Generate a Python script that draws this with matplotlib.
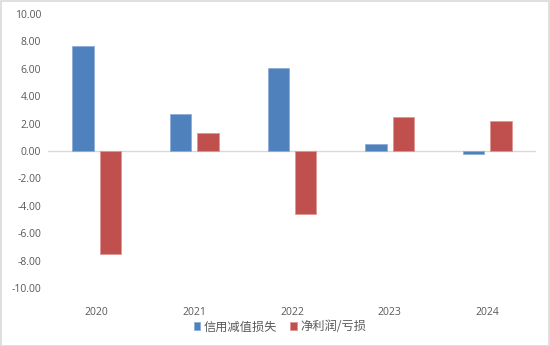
import numpy as np
import matplotlib
matplotlib.use("Agg")
import matplotlib.pyplot as plt
from matplotlib.patches import Rectangle

plt.rcParams['font.family'] = ['Open Sans', 'Noto Sans CJK SC', 'DejaVu Sans']

years = ['2020', '2021', '2022', '2023', '2024']
credit_loss = [7.65, 2.72, 6.08, 0.51, -0.20]
net_profit = [-7.52, 1.34, -4.62, 2.50, 2.21]
yticks = np.arange(-10, 10.01, 2)

blue = '#4F81BD'
red = '#C0504D'
grey = '#595959'

fig = plt.figure(figsize=(5.5, 3.46), dpi=100)
ax = fig.add_axes([48 / 550, 1 - 288 / 346, 488 / 550, 274 / 346])

x = np.arange(len(years))
w = 0.22
ax.bar(x - 0.14, credit_loss, w, color=blue, edgecolor='#8EADD6', linewidth=0.6,
       label='信用减值损失')
ax.bar(x + 0.14, net_profit, w, color=red, edgecolor='#DE9694', linewidth=0.6,
       label='净利润/亏损')

ax.set_xlim(-0.5, len(years) - 0.5)
ax.set_ylim(-10, 10)
ax.set_yticks(yticks)
ax.set_yticklabels([f'{v:.2f}' for v in yticks], fontsize=7.5, color=grey)
ax.set_xticks(x)
ax.set_xticklabels(years, fontsize=7.5, color=grey)
ax.tick_params(length=0, pad=14, axis='x')
ax.tick_params(length=0, pad=5, axis='y')
for s in ax.spines.values():
    s.set_visible(False)
ax.axhline(0, color='#D9D9D9', linewidth=1, zorder=0)

leg = fig.legend(loc='center', bbox_to_anchor=(280 / 550, 1 - 327 / 346), ncol=2,
                 frameon=False, handlelength=0.55, handleheight=0.55,
                 handletextpad=0.3, columnspacing=1.0,
                 prop={'family': ['Noto Sans CJK SC', 'DejaVu Sans'], 'size': 8.8})
for t in leg.get_texts():
    t.set_color(grey)

fig.patches.append(Rectangle((0.5 / 550, 0.5 / 346), 548.5 / 550, 344.5 / 346,
                             transform=fig.transFigure, fill=False,
                             edgecolor='#D9D9D9', linewidth=1.2))

fig.savefig('out.png', dpi=100, facecolor='white')
